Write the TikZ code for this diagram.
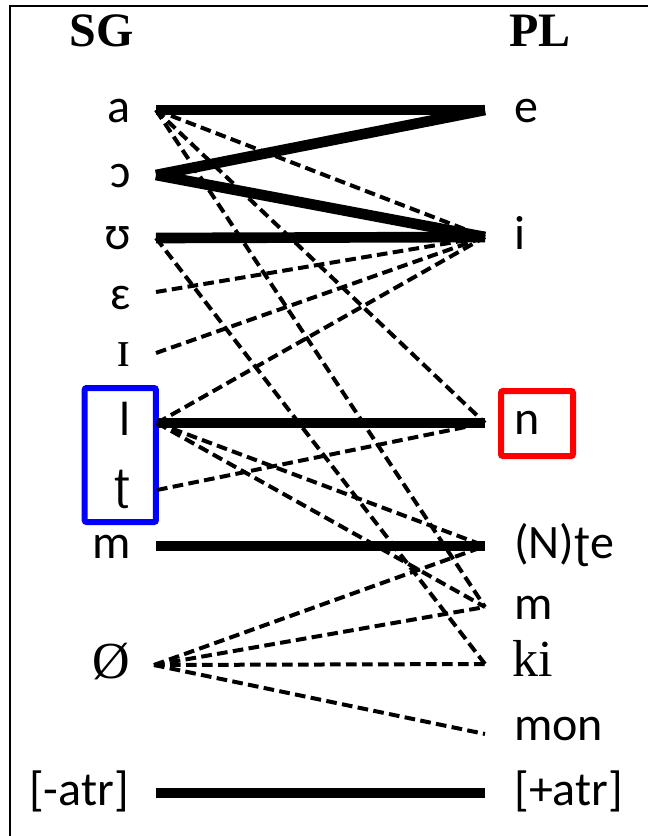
\documentclass[tikz,border=0pt]{standalone}
\usepackage{fontspec}
\setmainfont{Carlito}
\newfontfamily\serifface{Liberation Serif}
\begin{document}
\begin{tikzpicture}[x=0.75pt,y=-0.75pt,
  lab/.style={font=\fontsize{36}{40}\selectfont, inner sep=0pt},
  lft/.style={lab, anchor=base east},
  rgt/.style={lab, anchor=base west},
  serlab/.style={font=\serifface\fontsize{39}{42}\selectfont},
  head/.style={font=\serifface\bfseries\fontsize{36}{40}\selectfont, inner sep=0pt, anchor=base},
  strong/.style={line width=8pt},
  weak/.style={line width=3pt, dash pattern=on 8pt off 4pt},
  frame/.style={line width=2.2pt},
  hilite/.style={line width=4.5pt, rounded corners=1.5pt, inner sep=0pt}]
\useasboundingbox (0,0) rectangle (648,836);
% outer frame (top and left edges)
\draw[frame] (10,836) -- (10,6) -- (648,6);

% column headings
\node[head] (sg) at (102,46) {SG};
\node[head] (pl) at (540,46) {PL};

% singular labels
\node[lft] (ta)   at (131,122) {a};
\node[lft] (tO)   at (131,187) {ɔ};
\node[lft] (tU)   at (132,249) {ʊ};
\node[lft] (tE)   at (131,309) {ɛ};
\node[lft,serlab] (tI) at (131,366) {ɪ};
\node[lab,anchor=base] (tl)   at (125,435) {l};
\node[lab,anchor=base] (tt)   at (123,500) {ʈ};
\node[lft] (tm)   at (131,558) {m};
\node[lft,serlab] (tnull) at (130,678) {Ø};
\node[lft] (tatrm) at (129,805) {[-atr]};

% plural labels
\node[rgt] (pe)   at (514,122) {e};
\node[rgt] (pi)   at (514,249) {i};
\node[rgt] (pn)   at (514,434) {n};
\node[rgt] (pNte) at (514,558) {(N)ʈe};
\node[rgt] (pm)   at (514,619) {m};
\node[rgt,serlab] (pki) at (512,676) {ki};
\node[rgt] (pmon) at (514,740) {mon};
\node[rgt] (patrp) at (514,805) {[+atr]};

% highlight boxes
\node[draw=blue, hilite, minimum width=53.5pt, minimum height=100.5pt] (bluebox) at (120.3,455) {};
\node[draw=red, hilite, minimum width=54pt, minimum height=48.75pt] (redbox) at (537,423.5) {};

% line end points, left column
\coordinate (La)  at (156,110);
\coordinate (LO)  at (156,175);
\coordinate (LU)  at (156,238);
\coordinate (LE)  at (156,292);
\coordinate (LI)  at (156,353);
\coordinate (Ll)  at (157,423);
\coordinate (Lt)  at (157,490);
\coordinate (Lm)  at (156,546);
\coordinate (Lnull) at (154,665);
\coordinate (Latr) at (156,793);
% line end points, right column
\coordinate (Re)  at (485,110);
\coordinate (Ri)  at (485,237);
\coordinate (Rn)  at (485,423);
\coordinate (RNte) at (485,546);
\coordinate (Rm)  at (485,607);
\coordinate (Rki) at (485,664);
\coordinate (Rmon) at (485,734);
\coordinate (Ratr) at (485,793);

% dashed correspondences
\draw[weak] (La) -- (Ri);
\draw[weak] (La) -- (Rn);
\draw[weak] (La) -- (Rm);
\draw[weak] (LU) -- (Rki);
\draw[weak] (LE) -- (Ri);
\draw[weak] (LI) -- (Ri);
\draw[weak] (Ll) -- (Ri);
\draw[weak] (Ll) -- (RNte);
\draw[weak] (Ll) -- (Rm);
\draw[weak] (Lt) -- (Rn);
\draw[weak] (Lnull) -- (RNte);
\draw[weak] (Lnull) -- (Rm);
\draw[weak] (Lnull) -- (Rki);
\draw[weak] (Lnull) -- (Rmon);

% solid correspondences
\draw[strong] (La) -- (Re);
\draw[strong] (LO) -- (Re);
\draw[strong] (LO) -- (Ri);
\draw[strong] (LU) -- (Ri);
\draw[strong] (Ll) -- (Rn);
\draw[strong] (Lm) -- (RNte);
\draw[strong] (Latr) -- (Ratr);
\end{tikzpicture}
\end{document}
